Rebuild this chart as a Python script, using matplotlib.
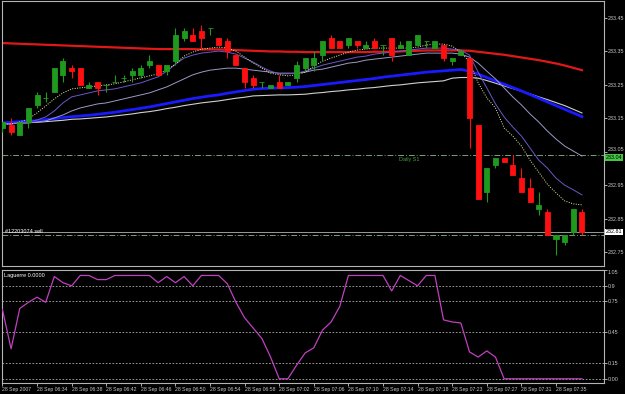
import matplotlib

matplotlib.use("Agg")

import matplotlib.pyplot as plt
import matplotlib.transforms as mtransforms
import numpy as np

plt.rcParams["font.family"] = ["Liberation Sans", "DejaVu Sans"]

# one-minute bars, 28 Sep 2007, 06:30 .. 07:35+
OPEN = [233.12, 233.13, 233.10, 233.14, 233.19, 233.21, 233.23, 233.28, 233.30, 233.30,
        233.24, 233.26, 233.25, 233.26, 233.27, 233.28, 233.28, 233.31, 233.31, 233.29,
        233.32, 233.39, 233.40, 233.41, 233.42, 233.39, 233.38, 233.34, 233.30, 233.27,
        233.26, 233.24, 233.26, 233.25, 233.27, 233.30, 233.31, 233.34, 233.39, 233.38,
        233.37, 233.38, 233.36, 233.38, 233.37, 233.39, 233.36, 233.34, 233.37, 233.38,
        233.36, 233.37, 233.32, 233.34, 233.33, 233.13, 232.93, 233.01, 233.03, 233.01,
        232.97, 232.94, 232.88, 232.87, 232.79, 232.78, 232.81, 232.87]
HIGH = [233.14, 233.15, 233.14, 233.18, 233.23, 233.23, 233.30, 233.33, 233.31, 233.30,
        233.26, 233.26, 233.25, 233.28, 233.28, 233.30, 233.31, 233.34, 233.31, 233.31,
        233.42, 233.42, 233.42, 233.43, 233.42, 233.39, 233.39, 233.34, 233.30, 233.28,
        233.26, 233.25, 233.28, 233.26, 233.32, 233.33, 233.35, 233.38, 233.40, 233.38,
        233.39, 233.38, 233.38, 233.39, 233.37, 233.39, 233.38, 233.38, 233.40, 233.38,
        233.38, 233.37, 233.33, 233.35, 233.33, 233.13, 233.00, 233.03, 233.03, 233.04,
        233.00, 232.97, 232.93, 232.88, 232.80, 232.80, 232.88, 232.88]
LOW = [233.11, 233.10, 233.10, 233.12, 233.18, 233.20, 233.23, 233.26, 233.27, 233.25,
       233.24, 233.22, 233.23, 233.26, 233.26, 233.26, 233.27, 233.30, 233.28, 233.28,
       233.31, 233.38, 233.38, 233.36, 233.40, 233.37, 233.33, 233.31, 233.24, 233.24,
       233.24, 233.24, 233.24, 233.25, 233.26, 233.29, 233.29, 233.32, 233.36, 233.36,
       233.36, 233.36, 233.36, 233.36, 233.34, 233.32, 233.36, 233.34, 233.37, 233.36,
       233.36, 233.32, 233.31, 233.34, 233.06, 232.91, 232.90, 233.00, 233.02, 232.98,
       232.93, 232.90, 232.86, 232.80, 232.74, 232.77, 232.80, 232.80]
CLOSE = [233.14, 233.11, 233.14, 233.18, 233.22, 233.21, 233.30, 233.32, 233.29, 233.25,
         233.25, 233.24, 233.25, 233.26, 233.27, 233.29, 233.30, 233.32, 233.28, 233.31,
         233.40, 233.41, 233.38, 233.39, 233.42, 233.37, 233.35, 233.31, 233.26, 233.25,
         233.26, 233.25, 233.24, 233.26, 233.31, 233.33, 233.33, 233.38, 233.36, 233.36,
         233.39, 233.37, 233.37, 233.36, 233.37, 233.34, 233.37, 233.38, 233.40, 233.38,
         233.38, 233.33, 233.33, 233.35, 233.15, 232.91, 233.00, 233.03, 233.02, 232.98,
         232.93, 232.90, 232.89, 232.80, 232.80, 232.80, 232.88, 232.81]

MA_RED = [233.375, 233.374, 233.373, 233.372, 233.371, 233.370, 233.369, 233.368, 233.367, 233.366,
          233.365, 233.364, 233.363, 233.362, 233.361, 233.360, 233.359, 233.358, 233.357, 233.357,
          233.357, 233.357, 233.357, 233.356, 233.356, 233.356, 233.355, 233.354, 233.353, 233.352,
          233.351, 233.350, 233.350, 233.349, 233.349, 233.348, 233.348, 233.348, 233.348, 233.348,
          233.348, 233.348, 233.348, 233.349, 233.349, 233.349, 233.350, 233.351, 233.352, 233.353,
          233.353, 233.353, 233.353, 233.353, 233.352, 233.349, 233.346, 233.343, 233.340, 233.336,
          233.332, 233.328, 233.324, 233.319, 233.314, 233.308, 233.301, 233.294]
MA_BLUE = [233.136, 233.138, 233.140, 233.141, 233.143, 233.146, 233.149, 233.152, 233.155, 233.157,
           233.159, 233.162, 233.165, 233.168, 233.172, 233.176, 233.180, 233.184, 233.189, 233.194,
           233.199, 233.204, 233.209, 233.213, 233.217, 233.220, 233.225, 233.229, 233.233, 233.237,
           233.239, 233.240, 233.241, 233.242, 233.243, 233.245, 233.248, 233.251, 233.254, 233.257,
           233.260, 233.263, 233.266, 233.269, 233.273, 233.276, 233.279, 233.282, 233.285, 233.288,
           233.290, 233.292, 233.294, 233.296, 233.291, 233.282, 233.272, 233.262, 233.252, 233.242,
           233.232, 233.221, 233.210, 233.199, 233.188, 233.177, 233.166, 233.155]
MA_WHITE = [233.133, 233.135, 233.136, 233.137, 233.138, 233.140, 233.142, 233.144, 233.147, 233.148,
            233.150, 233.152, 233.154, 233.157, 233.160, 233.163, 233.167, 233.170, 233.174, 233.179,
            233.183, 233.188, 233.192, 233.196, 233.199, 233.202, 233.206, 233.210, 233.213, 233.217,
            233.218, 233.219, 233.220, 233.220, 233.221, 233.222, 233.225, 233.227, 233.230, 233.232,
            233.235, 233.237, 233.240, 233.242, 233.245, 233.248, 233.250, 233.253, 233.256, 233.258,
            233.260, 233.262, 233.270, 233.272, 233.272, 233.270, 233.263, 233.255, 233.247, 233.239,
            233.231, 233.223, 233.214, 233.206, 233.197, 233.188, 233.177, 233.166]
MA_LAVENDER = [233.133, 233.133, 233.136, 233.136, 233.139, 233.142, 233.151, 233.160, 233.172, 233.181,
               233.187, 233.193, 233.196, 233.202, 233.208, 233.214, 233.220, 233.226, 233.235, 233.244,
               233.256, 233.268, 233.280, 233.288, 233.294, 233.297, 233.300, 233.300, 233.297, 233.294,
               233.291, 233.288, 233.285, 233.285, 233.285, 233.288, 233.294, 233.297, 233.303, 233.309,
               233.315, 233.318, 233.324, 233.327, 233.330, 233.333, 233.336, 233.339, 233.342, 233.345,
               233.345, 233.345, 233.345, 233.342, 233.333, 233.315, 233.291, 233.268, 233.241, 233.214,
               233.190, 233.163, 233.139, 233.112, 233.088, 233.067, 233.052, 233.037]
MA_PURPLE = [233.133, 233.133, 233.136, 233.139, 233.145, 233.154, 233.172, 233.196, 233.214, 233.220,
             233.226, 233.232, 233.235, 233.238, 233.244, 233.250, 233.256, 233.265, 233.274, 233.291,
             233.312, 233.330, 233.339, 233.345, 233.348, 233.351, 233.348, 233.342, 233.330, 233.318,
             233.303, 233.291, 233.283, 233.283, 233.285, 233.291, 233.300, 233.309, 233.315, 233.321,
             233.327, 233.333, 233.336, 233.342, 233.345, 233.348, 233.351, 233.354, 233.357, 233.360,
             233.360, 233.360, 233.357, 233.354, 233.339, 233.288, 233.241, 233.193, 233.154, 233.124,
             233.097, 233.061, 233.025, 233.001, 232.971, 232.950, 232.936, 232.921]
MA_YELLOW = [233.133, 233.133, 233.139, 233.148, 233.166, 233.187, 233.208, 233.226, 233.238, 233.241,
             233.244, 233.247, 233.250, 233.253, 233.259, 233.265, 233.271, 233.277, 233.283, 233.294,
             233.312, 233.336, 233.348, 233.357, 233.360, 233.363, 233.360, 233.351, 233.333, 233.315,
             233.300, 233.285, 233.280, 233.277, 233.280, 233.288, 233.306, 233.321, 233.330, 233.339,
             233.348, 233.354, 233.357, 233.360, 233.360, 233.360, 233.360, 233.360, 233.363, 233.369,
             233.372, 233.372, 233.366, 233.348, 233.318, 233.256, 233.211, 233.181, 233.121, 233.097,
             233.067, 233.025, 232.989, 232.953, 232.927, 232.903, 232.894, 232.891]

LAGUERRE = [0.67, 0.29, 0.68, 0.74, 0.79, 0.74, 0.99, 0.93, 0.90, 1.00,
            1.00, 0.96, 0.96, 1.00, 1.00, 1.00, 1.00, 1.00, 0.93, 0.99,
            0.93, 0.99, 0.90, 1.00, 1.00, 1.00, 0.92, 0.74, 0.59, 0.49,
            0.39, 0.21, 0.00, 0.00, 0.13, 0.25, 0.30, 0.47, 0.55, 0.70,
            1.00, 1.00, 1.00, 1.00, 1.00, 0.85, 1.00, 0.95, 0.90, 1.00,
            1.00, 0.57, 0.55, 0.54, 0.26, 0.21, 0.27, 0.21, 0.00, 0.00,
            0.00, 0.00, 0.00, 0.00, 0.00, 0.00, 0.00, 0.00]

TIME_LABELS = ["28 Sep 2007", "28 Sep 06:34", "28 Sep 06:38", "28 Sep 06:42", "28 Sep 06:46",
               "28 Sep 06:50", "28 Sep 06:54", "28 Sep 06:58", "28 Sep 07:02", "28 Sep 07:06",
               "28 Sep 07:10", "28 Sep 07:14", "28 Sep 07:18", "28 Sep 07:23", "28 Sep 07:27",
               "28 Sep 07:31", "28 Sep 07:35"]
TIME_LABEL_BARS = [0, 4, 8, 12, 16, 20, 24, 28, 32, 36, 40, 44, 48, 52, 56, 60, 64]

PRICE_TICKS = [232.75, 232.85, 232.95, 233.05, 233.15, 233.25, 233.35, 233.45]
LAG_TICKS = [1.05, 0.9, 0.75, 0.45, 0.15, 0.0]
LAG_TICK_LABELS = ["1.05", "0.9", "0.75", "0.45", "0.15", "0.00"]
LAG_LEVELS = [0.9, 0.75, 0.45, 0.15, 0.0]

DAILY_S1 = 233.04
BID = 232.81
ORDER_PRICE = 232.80

BG = "black"
FG = "#c8c8c8"
UP = "#1f9a1f"
DOWN = "#ff1010"
LEVEL_COLOR = "#7a9e7a"

fig = plt.figure(figsize=(6.25, 3.94), dpi=100, facecolor=BG)
ax = fig.add_axes([2 / 625, 1 - 266 / 394, 602 / 625, 265 / 394], facecolor=BG)
ax2 = fig.add_axes([2 / 625, 1 - 383 / 394, 602 / 625, 113 / 394], facecolor=BG, sharex=ax)

x = np.arange(len(OPEN))
o, h, l, c = map(np.array, (OPEN, HIGH, LOW, CLOSE))
colors = np.where(c >= o, UP, DOWN)

# moving averages (behind candles)
ax.plot(x, MA_RED, color="#e01818", lw=1.6, zorder=2)
ax.plot(x, MA_WHITE, color="#d0d0d0", lw=0.8, zorder=2)
ax.plot(x, MA_BLUE, color="#1a1aff", lw=2.0, zorder=2)
ax.plot(x, MA_LAVENDER, color="#9a9ac8", lw=0.7, zorder=2)
ax.plot(x, MA_PURPLE, color="#6a58c8", lw=0.7, zorder=2)
ax.plot(x, MA_YELLOW, color="#f0f0a0", lw=0.7, ls=(0, (1, 1.5)), zorder=2)

# candles
ax.vlines(x, l, h, colors=colors, lw=0.8, zorder=3)
ax.bar(x, np.abs(c - o), bottom=np.minimum(o, c), width=0.58, color=colors,
       edgecolor=colors, linewidth=0.6, zorder=4)

# horizontal lines
ax.axhline(DAILY_S1, color=LEVEL_COLOR, lw=0.7, ls=(0, (6, 2, 1, 2)), zorder=1)
ax.axhline(BID, color="#9a9a9a", lw=0.7, zorder=1)
ax.axhline(ORDER_PRICE, color=LEVEL_COLOR, lw=0.7, ls=(0, (6, 2, 1, 2)), zorder=1)
ax.text(45.8, DAILY_S1 - 0.006, "Daily S1", color="#3fa03f", fontsize=4, va="top", ha="left")
ax.text(0.3, ORDER_PRICE + 0.004, "#12203074 sell", color="white", fontsize=4, va="bottom", ha="left")

ax.set_xlim(-0.05, 69.55)
ax.set_ylim(232.7081, 233.5009)
ax.yaxis.tick_right()
ax.set_yticks(PRICE_TICKS)
ax.set_yticklabels([f"{v:.2f}" for v in PRICE_TICKS])
ax.tick_params(axis="y", colors=FG, labelsize=3.9, length=2, pad=0.8, width=0.6)
ax.tick_params(axis="x", bottom=False, labelbottom=False)
ax.get_yticklabels()[3].set_va("bottom")

trans = mtransforms.blended_transform_factory(ax.transAxes, ax.transData)
ax.text(1.003, DAILY_S1, f"{DAILY_S1:.2f}", transform=trans, fontsize=3.9, color="black",
        va="top", ha="left", bbox=dict(boxstyle="square,pad=0.12", fc="#44c844", ec="none"))
ax.text(1.003, BID, f"{BID:.2f}", transform=trans, fontsize=3.9, color="black",
        va="center", ha="left", bbox=dict(boxstyle="square,pad=0.12", fc="white", ec="none"))

# Laguerre panel
for lv in LAG_LEVELS:
    ax2.axhline(lv, color="#b0b0b0", lw=0.6, ls=(0, (2, 2)), zorder=1)
ax2.plot(x, LAGUERRE, color="#c040c0", lw=0.9, zorder=3)
ax2.set_ylim(-0.041, 1.053)
ax2.yaxis.tick_right()
ax2.set_yticks(LAG_TICKS)
ax2.set_yticklabels(LAG_TICK_LABELS)
ax2.tick_params(axis="y", colors=FG, labelsize=3.9, length=2, pad=0.8, width=0.6)
ax2.get_yticklabels()[0].set_va("top")
ax2.text(0.004, 0.975, "Laguerre 0.0000", transform=ax2.transAxes, color="white",
         fontsize=4, va="top", ha="left")

ax2.set_xticks(TIME_LABEL_BARS)
ax2.set_xticklabels(TIME_LABELS)
ax2.tick_params(axis="x", colors=FG, labelsize=3.7, length=2, pad=1, width=0.6)
for lbl in ax2.get_xticklabels():
    lbl.set_ha("left")

for a in (ax, ax2):
    for sp in a.spines.values():
        sp.set_color("#b4b4b4")
        sp.set_linewidth(0.8)

fig.savefig("out.png", dpi=100, facecolor=BG)
